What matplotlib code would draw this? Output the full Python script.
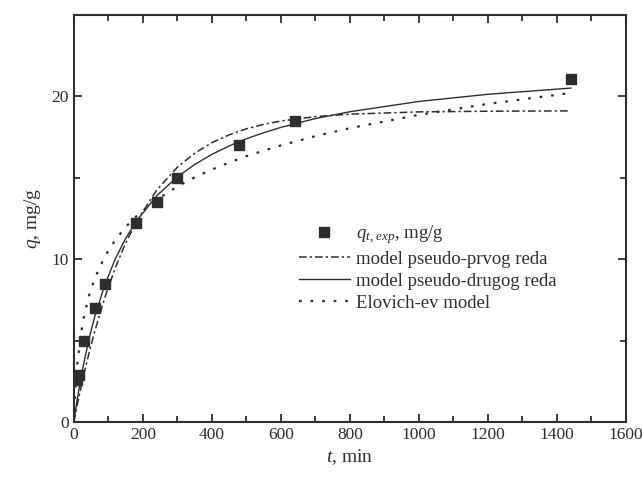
import matplotlib
matplotlib.use("Agg")
import matplotlib.pyplot as plt
from matplotlib.ticker import MultipleLocator

plt.rcParams['font.family'] = ['Liberation Serif', 'DejaVu Serif']
plt.rcParams['mathtext.fontset'] = 'custom'
plt.rcParams['mathtext.rm'] = 'Liberation Serif'
plt.rcParams['mathtext.it'] = 'Liberation Serif:italic'

# experimental points
t_exp = [10, 15, 30, 60, 90, 180, 240, 300, 480, 640, 1440]
q_exp = [2.6, 2.9, 5.0, 7.0, 8.5, 12.2, 13.5, 15.0, 17.0, 18.5, 21.05]

# model curves
t_mod = [0, 5, 10, 20, 30, 45, 60, 90, 120, 150, 180, 240, 300, 350, 400,
         450, 500, 550, 600, 700, 800, 1000, 1200, 1440]
q_pfo = [0, 0.54, 1.06, 2.06, 3.00, 4.32, 5.53, 7.66, 9.46, 10.98, 12.25,
         14.24, 15.64, 16.50, 17.15, 17.63, 18.0, 18.27, 18.48, 18.75, 18.9,
         19.04, 19.08, 19.1]
q_pso = [0, 0.72, 1.40, 2.64, 3.74, 5.19, 6.43, 8.44, 10.01, 11.27, 12.30,
         13.89, 15.05, 15.81, 16.43, 16.95, 17.39, 17.76, 18.09, 18.63, 19.05,
         19.68, 20.12, 20.50]
q_elo = [0, 2.20, 3.57, 5.35, 6.55, 7.84, 8.79, 10.17, 11.18, 11.97, 12.61,
         13.65, 14.46, 15.02, 15.50, 15.93, 16.32, 16.66, 16.98, 17.55, 18.04,
         18.86, 19.53, 20.20]

labels = [r"$q_{t,\,exp}$, mg/g", "model pseudo-prvog reda",
          "model pseudo-drugog reda", "Elovich-ev model"]

col = '#2e2e2e'
fig = plt.figure(figsize=(6.42, 4.92), dpi=100)
ax = fig.add_axes([0.115, 0.142, 0.86, 0.828])

ax.plot(t_exp, q_exp, 's', color=col, markersize=7.5, label=labels[0], zorder=5)
ax.plot(t_mod, q_pfo, color=col, lw=1.1, dashes=[5, 2, 1.5, 2], label=labels[1])
ax.plot(t_mod, q_pso, color=col, lw=1.0, label=labels[2])
ax.plot(t_mod, q_elo, color=col, lw=1.6, dashes=[1.2, 4], label=labels[3])

ax.set_xlim(0, 1600)
ax.set_ylim(0, 25)
ax.xaxis.set_major_locator(MultipleLocator(200))
ax.xaxis.set_minor_locator(MultipleLocator(100))
ax.yaxis.set_major_locator(MultipleLocator(10))
ax.yaxis.set_minor_locator(MultipleLocator(5))
ax.tick_params(which='both', direction='in', top=True, right=True,
               width=1.3, colors=col, labelsize=12.5)
ax.tick_params(which='major', length=6)
ax.tick_params(which='minor', length=4)
for s in ax.spines.values():
    s.set_linewidth(1.5)
    s.set_color(col)

ax.set_xlabel(r"$t$, min", fontsize=14, color=col, labelpad=3)
ax.set_ylabel(r"$q$, mg/g", fontsize=14, color=col, labelpad=6)

leg = ax.legend(loc='upper left', bbox_to_anchor=(0.408, 0.488), frameon=False,
                fontsize=13.5, handlelength=2.7, handletextpad=0.35,
                labelspacing=0.25, borderpad=0, borderaxespad=0)
for txt in leg.get_texts():
    txt.set_color(col)

fig.savefig("out.png", dpi=100)
